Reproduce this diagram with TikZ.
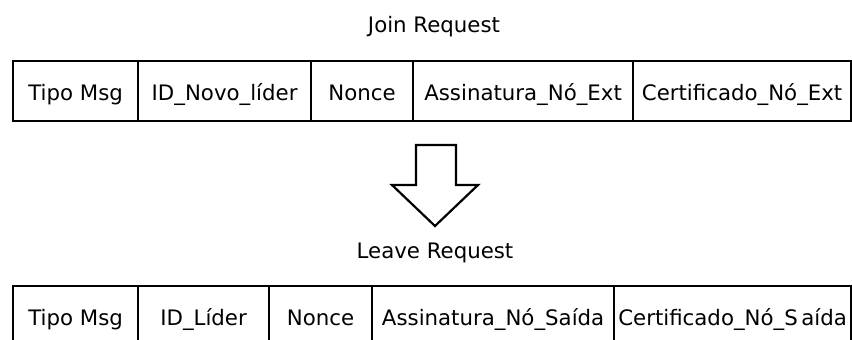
\documentclass[tikz,border=0pt]{standalone}
\usepackage{fontspec}
\setmainfont{DejaVu Sans}
\begin{document}
\begin{tikzpicture}[x=1pt,y=-1pt,
  field/.style={draw=black, line width=2.2pt, rectangle, inner sep=0pt,
    minimum height=60pt, text height=19pt, text depth=0pt,
    font=\fontsize{21.3}{25}\selectfont, anchor=west},
  caption/.style={inner sep=0pt, anchor=base, font=\fontsize{21.3}{25}\selectfont},
  blockarrow/.style={draw=black, fill=white, line width=2.2pt, line join=miter}]
\useasboundingbox (0,0) rectangle (852,340);
\clip (0,0) rectangle (852,340);

% Join Request message layout
\node[caption] (jtitle) at (434,32) {Join Request};
\node[field, minimum width=125pt] (j1) at (12,91)  {Tipo Msg};
\node[field, minimum width=173pt] (j2) at (137,91) {ID\_Novo\_líder};
\node[field, minimum width=102pt] (j3) at (310,91) {Nonce};
\node[field, minimum width=220pt] (j4) at (412,91) {Assinatura\_Nó\_Ext};
\node[field, minimum width=218pt] (j5) at (632,91) {Certificado\_Nó\_Ext};

% hollow block arrow between the two layouts
\draw[blockarrow] (416,145) -- (456,145) -- (456,185) -- (478,185)
  -- (435,226) -- (392,185) -- (416,185) -- cycle;

% Leave Request message layout
\node[caption] (ltitle) at (435,258) {Leave Request};
\node[field, minimum width=125pt] (l1) at (12,316)  {Tipo Msg};
\node[field, minimum width=131pt] (l2) at (137,316) {ID\_Líder};
\node[field, minimum width=103pt] (l3) at (268,316) {Nonce};
\node[field, minimum width=242pt] (l4) at (371,316) {Assinatura\_Nó\_Saída};
\node[field, minimum width=237pt] (l5) at (613,316) {Certificado\_Nó\_S\,aída};
\end{tikzpicture}
\end{document}
